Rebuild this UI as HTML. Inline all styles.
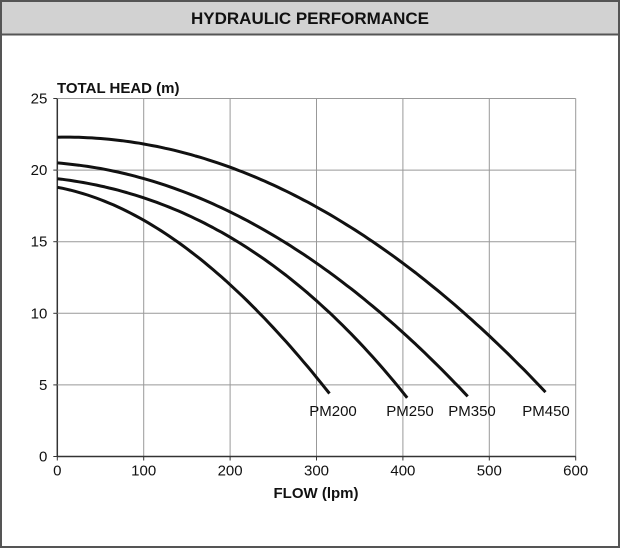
<!DOCTYPE html>
<html><head><style>
body{margin:0;background:#fff}
svg{display:block}
text{font-family:"Liberation Sans",sans-serif;fill:#111}
</style></head><body>
<svg id="s" width="620" height="548" viewBox="0 0 620 548">
<rect x="1" y="1" width="618" height="546" fill="#fff" stroke="#555" stroke-width="2"/>
<rect x="1" y="1" width="618" height="33.5" fill="#d2d2d2" stroke="#555" stroke-width="2"/>
<text x="310" y="24" text-anchor="middle" font-size="17" font-weight="bold">HYDRAULIC PERFORMANCE</text>
<text x="57" y="93" font-size="15" font-weight="bold">TOTAL HEAD (m)</text>
<text x="316" y="498" text-anchor="middle" font-size="15" font-weight="bold">FLOW (lpm)</text>
<g id="g" stroke="#999" stroke-width="1"></g>
<g id="c" fill="none" stroke="#111" stroke-width="3" stroke-linejoin="round"></g>
<g font-size="15">
<text x="333" y="416" text-anchor="middle">PM200</text>
<text x="410" y="416" text-anchor="middle">PM250</text>
<text x="472" y="416" text-anchor="middle">PM350</text>
<text x="546" y="416" text-anchor="middle">PM450</text>
</g>
<g id="t" font-size="15"></g>
</svg>
<script>
var X0=57.3,X1=575.7,Y0=456.5,Y1=98.5;
function px(q){return X0+(X1-X0)*q/600}
function py(h){return Y0-(Y0-Y1)*h/25}
var ns="http://www.w3.org/2000/svg",g=document.getElementById('g'),t=document.getElementById('t'),c=document.getElementById('c');
function el(p,n,a,txt){var e=document.createElementNS(ns,n);for(var k in a)e.setAttribute(k,a[k]);if(txt!=null)e.textContent=txt;p.appendChild(e);return e}
for(var i=0;i<=6;i++){var x=px(i*100);el(g,'line',{x1:x,y1:Y1,x2:x,y2:Y0,stroke:i==0?'#333':'#999','stroke-width':i==0?1.5:1});el(g,'line',{x1:x,y1:Y0,x2:x,y2:Y0+4,stroke:'#333'});el(t,'text',{x:x,y:Y0+19,'text-anchor':'middle'},String(i*100))}
for(var j=0;j<=5;j++){var y=py(j*5);el(g,'line',{x1:X0,y1:y,x2:X1,y2:y,stroke:j==0?'#333':'#999','stroke-width':j==0?1.5:1});el(g,'line',{x1:X0-4,y1:y,x2:X0,y2:y,stroke:'#333'});el(t,'text',{x:X0-10,y:y+5,'text-anchor':'end'},String(j*5))}
function lag(pts,q){var s=0;for(var i=0;i<pts.length;i++){var p=pts[i][1];for(var k=0;k<pts.length;k++)if(k!=i)p*=(q-pts[k][0])/(pts[i][0]-pts[k][0]);s+=p}return s}
var curves=[
[[0,22.3],[200,20.2],[400,13.5],[565,4.5]],
[[0,20.5],[150,18.4],[300,13.5],[475,4.2]],
[[0,19.4],[130,17.4],[270,12.4],[405,4.1]],
[[0,18.8],[100,16.5],[200,12],[315,4.4]]];
curves.forEach(function(pts){var end=pts[pts.length-1][0],d='';for(var q=0;q<=end;q+=5){d+=(q?'L':'M')+px(q).toFixed(1)+','+py(lag(pts,q)).toFixed(1)}el(c,'path',{d:d})});
</script>
</body></html>
